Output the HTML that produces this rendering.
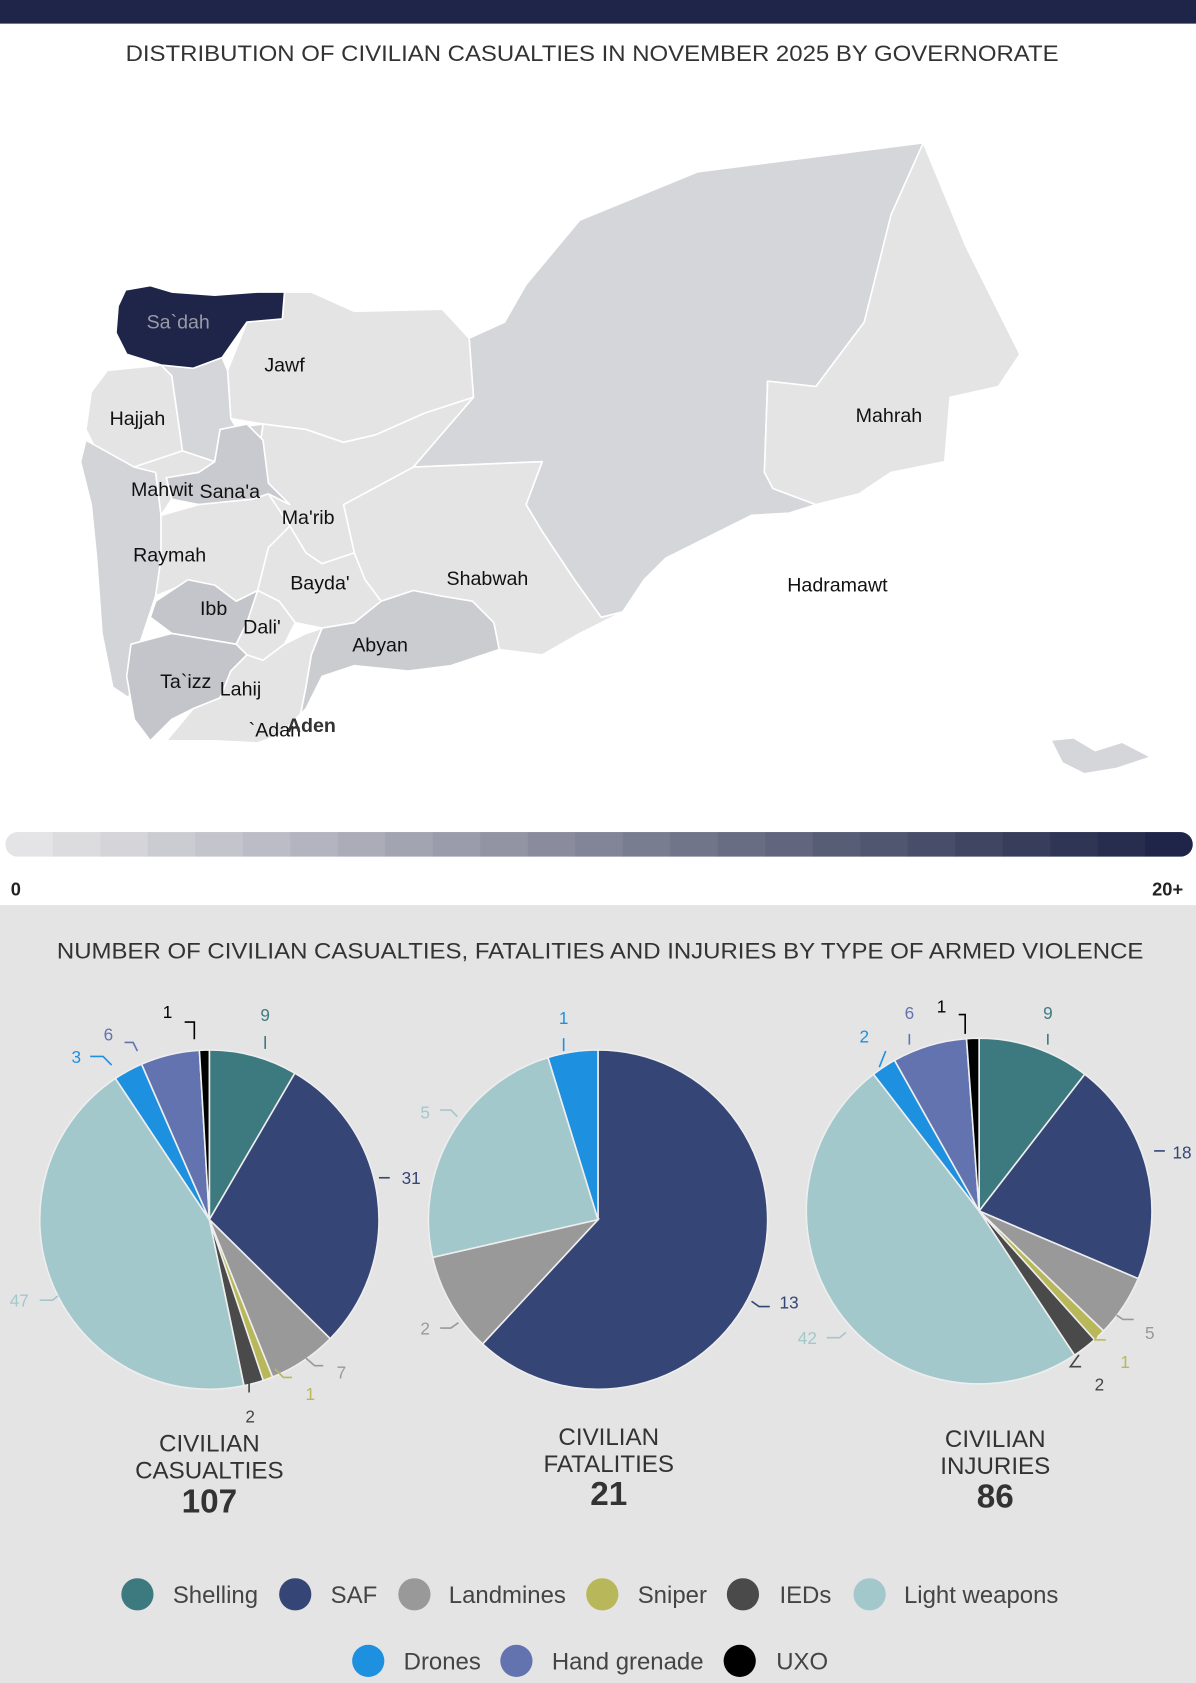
<!DOCTYPE html>
<html><head><meta charset="utf-8"><style>
html,body{margin:0;padding:0;background:#fff;}
svg{display:block;font-family:"Liberation Sans",Arial,sans-serif;}
</style></head><body>
<svg id="s" width="1196" height="1683" viewBox="0 0 1114 1567.6" xmlns="http://www.w3.org/2000/svg">
<defs>
<clipPath id="cb"><rect x="5" y="775" width="1106" height="23" rx="11.5"/></clipPath>
</defs>
<rect x="0" y="0" width="1114" height="843" fill="#fff"/>
<rect x="0" y="843" width="1114" height="725" fill="#e4e4e4"/>
<rect x="0" y="0" width="1114" height="22" fill="#1f2548"/>
<text x="117" y="57" font-size="20.5" fill="#333" textLength="869" lengthAdjust="spacingAndGlyphs">DISTRIBUTION OF CIVILIAN CASUALTIES IN NOVEMBER 2025 BY GOVERNORATE</text>

<g stroke="#fff" stroke-width="1.5" stroke-linejoin="round">
<polygon fill="#d5d6da" points="441,370 437,315 470,300 490,265 540,205 650,160 860,133 830,200 805,300 760,360 715,355 712,440 720,455 760,470 735,478 700,480 620,520 600,540 580,570 560,575 535,540 505,495 490,470 505,430 385,435"/>
<polygon fill="#e4e4e4" points="860,133 900,230 935,300 950,330 930,360 885,370 880,430 830,440 800,460 760,470 720,455 712,440 715,355 760,360 805,300 830,200"/>
<polygon fill="#e4e4e4" points="385,435 505,430 490,470 505,495 535,540 560,575 580,570 540,590 505,610 465,605 460,580 440,560 410,555 385,550 355,560 340,540 330,515 320,470"/>
<polygon fill="#e4e4e4" points="265,272 290,272 330,290 412,288 437,315 441,370 395,385 350,405 320,412 285,400 245,395 215,390 212,345 230,300 263,297"/>
<polygon fill="#e4e4e4" points="245,395 285,400 320,412 350,405 395,385 441,370 385,435 320,470 330,515 300,525 285,515 270,490 250,460 240,430"/>
<polygon fill="#e4e4e4" points="100,345 150,340 160,350 170,420 125,435 90,420 80,400 85,365"/>
<polygon fill="#d5d6da" points="150,340 180,343 207,333 212,345 215,390 240,430 245,395 205,400 200,430 170,420 160,350"/>
<polygon fill="#d3d4d8" points="80,410 125,435 145,440 150,480 150,520 145,555 130,600 120,650 105,640 95,590 90,520 85,470 75,430"/>
<polygon fill="#e4e4e4" points="125,435 170,420 200,430 185,440 155,445 160,465 150,480 145,440"/>
<polygon fill="#c9cad0" points="205,400 230,395 245,410 250,450 270,470 250,460 235,465 210,470 185,470 160,465 155,445 185,440 200,430"/>
<polygon fill="#e4e4e4" points="150,480 185,470 235,465 250,460 270,490 250,510 240,550 220,560 200,545 170,545 145,555 150,520"/>
<polygon fill="#e4e4e4" points="250,510 270,490 285,515 300,525 330,515 340,540 355,560 330,580 300,585 275,580 260,560 240,550"/>
<polygon fill="#c4c5ca" points="145,560 175,540 200,545 220,560 240,550 230,580 220,600 190,595 160,590 140,575"/>
<polygon fill="#e4e4e4" points="240,550 260,560 275,580 265,600 245,615 230,610 220,600 230,580"/>
<polygon fill="#c4c5ca" points="122,600 160,590 190,595 220,600 230,610 215,625 205,650 180,660 160,670 140,690 125,670 118,630"/>
<polygon fill="#e4e4e4" points="205,650 215,625 230,610 245,615 265,600 285,590 300,585 290,610 285,640 280,665 260,685 240,692 200,690 155,690 180,660"/>
<polygon fill="#cbccd0" points="300,585 330,580 355,560 385,550 410,555 440,560 460,580 465,605 420,620 380,625 330,620 300,630 285,660 280,665 285,640 290,610"/>
<polygon fill="#1f2548" points="117,270 140,266 160,272 200,275 240,272 265,272 263,297 230,300 207,333 180,343 150,340 118,330 108,310 110,285"/>
<polygon fill="#d5d6da" stroke="none" points="980,690 1000,688 1020,700 1045,692 1070,705 1040,715 1010,720 990,710"/>
</g>

<g font-size="18.3" fill="#111" text-anchor="middle">
<text x="166" y="306" fill="#9a9aa6">Sa`dah</text>
<text x="265" y="346">Jawf</text>
<text x="128" y="396">Hajjah</text>
<text x="151" y="462">Mahwit</text>
<text x="214" y="464">Sana'a</text>
<text x="287" y="488">Ma'rib</text>
<text x="158" y="523">Raymah</text>
<text x="298" y="549">Bayda'</text>
<text x="199" y="573">Ibb</text>
<text x="244" y="590">Dali'</text>
<text x="354" y="607">Abyan</text>
<text x="173" y="641">Ta`izz</text>
<text x="224" y="648">Lahij</text>
<text x="256" y="686">`Adan</text>
<text x="290" y="682" font-weight="bold" fill="#333">Aden</text>
<text x="454" y="545">Shabwah</text>
<text x="780" y="551">Hadramawt</text>
<text x="828" y="393">Mahrah</text>
</g>

<g clip-path="url(#cb)" id="bar"></g>
<text x="10" y="834" font-size="17" font-weight="bold" fill="#222">0</text>
<text x="1102" y="834" font-size="17" font-weight="bold" fill="#222" text-anchor="end">20+</text>

<text x="53" y="893" font-size="20.5" fill="#333" textLength="1012" lengthAdjust="spacingAndGlyphs">NUMBER OF CIVILIAN CASUALTIES, FATALITIES AND INJURIES BY TYPE OF ARMED VIOLENCE</text>

<g id="pies"></g>

<g font-size="16" text-anchor="middle">
<text x="247" y="951" fill="#3d7a80">9</text>
<text x="383" y="1103" fill="#354576">31</text>
<text x="318" y="1284" fill="#999">7</text>
<text x="289" y="1304" fill="#b8b85a">1</text>
<text x="233" y="1325" fill="#444">2</text>
<text x="18" y="1217" fill="#a3c8cb">47</text>
<text x="71" y="990" fill="#1e90e0">3</text>
<text x="101" y="969" fill="#6373b0">6</text>
<text x="156" y="948" fill="#000">1</text>
<text x="525" y="954" fill="#1e90e0">1</text>
<text x="735" y="1219" fill="#354576">13</text>
<text x="396" y="1243" fill="#999">2</text>
<text x="396" y="1042" fill="#a3c8cb">5</text>
<text x="976" y="949" fill="#3d7a80">9</text>
<text x="1101" y="1079" fill="#354576">18</text>
<text x="1071" y="1247" fill="#999">5</text>
<text x="1048" y="1274" fill="#b8b85a">1</text>
<text x="1024" y="1295" fill="#444">2</text>
<text x="752" y="1252" fill="#a3c8cb">42</text>
<text x="805" y="971" fill="#1e90e0">2</text>
<text x="847" y="949" fill="#6373b0">6</text>
<text x="877" y="943" fill="#000">1</text>
</g>
<g stroke-width="1.5" fill="none">
<path d="M247,965 v12" stroke="#3d7a80"/><path d="M353,1097 h10" stroke="#354576"/>
<path d="M37,1211 h12 l5,-4" stroke="#a3c8cb"/><path d="M84,984 h12 l8,8" stroke="#1e90e0"/>
<path d="M116,971 h8 l4,8" stroke="#6373b0"/><path d="M172,952 h9 v16" stroke="#000"/>
<path d="M285,1265 l8,7 h8" stroke="#999"/><path d="M256,1275 l8,8 h8" stroke="#b8b85a"/>
<path d="M232,1287 v10" stroke="#444"/>
<path d="M525,967 v12" stroke="#1e90e0"/><path d="M700,1212 l7,5 h10" stroke="#354576"/>
<path d="M410,1237 h10 l7,-5" stroke="#999"/><path d="M410,1034 h10 l6,6" stroke="#a3c8cb"/>
<path d="M976,963 v10" stroke="#3d7a80"/><path d="M1075,1072 h10" stroke="#354576"/>
<path d="M1040,1225 l6,4 h10" stroke="#999"/><path d="M1024,1238 l-4,10 h10" stroke="#b8b85a"/>
<path d="M1005,1262 l-8,11 h10" stroke="#444"/><path d="M770,1246 h12 l6,-5" stroke="#a3c8cb"/>
<path d="M825,979 l-6,15" stroke="#1e90e0"/><path d="M847,963 v10" stroke="#6373b0"/>
<path d="M893,945 h6 v18" stroke="#000"/>
</g>

<g text-anchor="middle" fill="#333">
<text x="195" y="1352" font-size="22.5">CIVILIAN</text>
<text x="195" y="1377" font-size="22.5">CASUALTIES</text>
<text x="195" y="1409" font-size="31" font-weight="bold">107</text>
<text x="567" y="1346" font-size="22.5">CIVILIAN</text>
<text x="567" y="1371" font-size="22.5">FATALITIES</text>
<text x="567" y="1402" font-size="31" font-weight="bold">21</text>
<text x="927" y="1348" font-size="22.5">CIVILIAN</text>
<text x="927" y="1373" font-size="22.5">INJURIES</text>
<text x="927" y="1404" font-size="31" font-weight="bold">86</text>
</g>

<g font-size="22.3" fill="#444">
<circle cx="128" cy="1485" r="15" fill="#3d7a80"/><text x="161" y="1493">Shelling</text>
<circle cx="275" cy="1485" r="15" fill="#354576"/><text x="308" y="1493">SAF</text>
<circle cx="386" cy="1485" r="15" fill="#999"/><text x="418" y="1493">Landmines</text>
<circle cx="561" cy="1485" r="15" fill="#b8b85a"/><text x="594" y="1493">Sniper</text>
<circle cx="692" cy="1485" r="15" fill="#4a4a4a"/><text x="726" y="1493">IEDs</text>
<circle cx="810" cy="1485" r="15" fill="#a3c8cb"/><text x="842" y="1493">Light weapons</text>
<circle cx="343" cy="1547" r="15" fill="#1e90e0"/><text x="376" y="1555">Drones</text>
<circle cx="481" cy="1547" r="15" fill="#6373b0"/><text x="514" y="1555">Hand grenade</text>
<circle cx="689" cy="1547" r="15" fill="#000"/><text x="723" y="1555">UXO</text>
</g>
</svg>
<script>
var NS="http://www.w3.org/2000/svg";
var bar=document.getElementById("bar");
var c0=[0xe4,0xe4,0xe6],c1=[0x1f,0x25,0x48],n=25,w=1106/n;
for(var i=0;i<n;i++){var t=i/(n-1),r=document.createElementNS(NS,"rect");
r.setAttribute("x",5+i*w);r.setAttribute("y",775);r.setAttribute("width",w+0.5);r.setAttribute("height",23);
r.setAttribute("fill","rgb("+c0.map(function(a,k){return Math.round(a+(c1[k]-a)*t)}).join(",")+")");bar.appendChild(r);}
var cols=["#3d7a80","#354576","#999999","#b8b85a","#4a4a4a","#a3c8cb","#1e90e0","#6373b0","#000000"];
function pie(cx,cy,R,vals){var g=document.getElementById("pies"),tot=vals.reduce(function(a,b){return a+b},0),a=0;
vals.forEach(function(v,i){if(!v)return;var a2=a+v/tot*2*Math.PI;
var x1=cx+R*Math.sin(a),y1=cy-R*Math.cos(a),x2=cx+R*Math.sin(a2),y2=cy-R*Math.cos(a2);
var p=document.createElementNS(NS,"path");
p.setAttribute("d","M"+cx+","+cy+" L"+x1+","+y1+" A"+R+","+R+" 0 "+((a2-a)>Math.PI?1:0)+" 1 "+x2+","+y2+" Z");
p.setAttribute("fill",cols[i]);p.setAttribute("stroke","#eee");p.setAttribute("stroke-width","1.5");g.appendChild(p);a=a2;});}
pie(195,1136,158,[9,31,7,1,2,47,3,6,1]);
pie(557,1136,158,[0,13,2,0,0,5,1,0,0]);
pie(912,1128,161,[9,18,5,1,2,42,2,6,1]);
</script>
</body></html>
